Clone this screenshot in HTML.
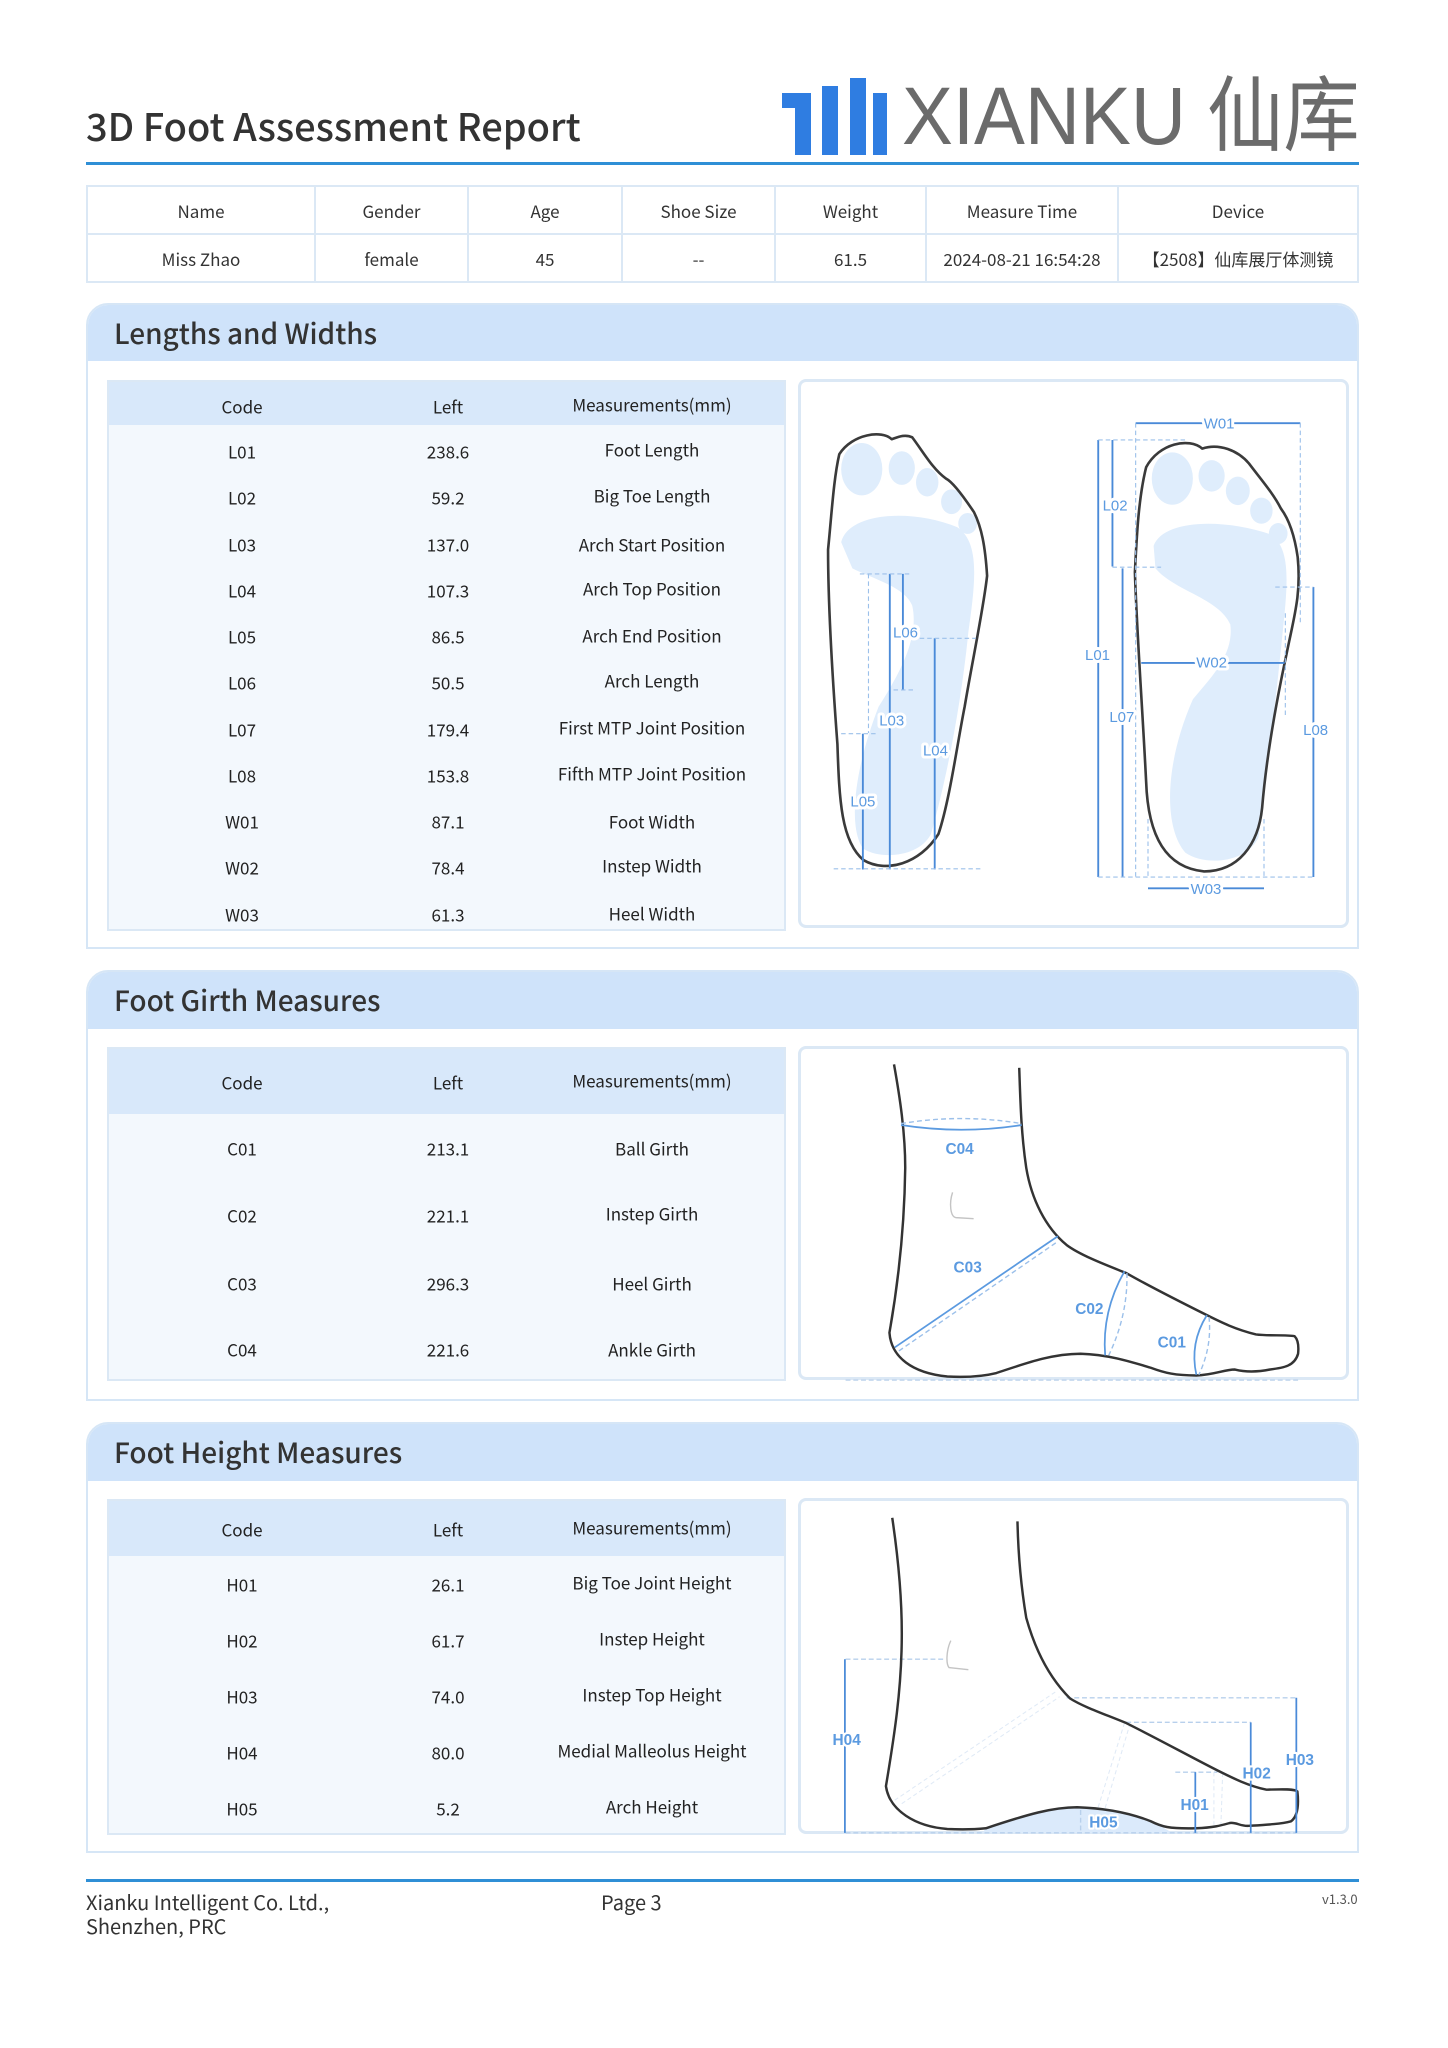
<!DOCTYPE html>
<html><head><meta charset="utf-8">
<style>
*{margin:0;padding:0;box-sizing:border-box}
body{width:1448px;height:2048px;background:#fff;position:relative;overflow:hidden;font-family:"Noto Sans CJK SC","Liberation Sans",sans-serif;color:#333}
.a{position:absolute}
.title{left:86px;top:102px;font-size:38px;color:#333;line-height:1.2;font-weight:500}
.rule{left:86px;top:162px;width:1273px;height:3px;background:#2f8fd6}
table{border-collapse:collapse}
.info{left:86px;top:185px;width:1273px;height:96px}
.info td{border:2px solid #dbe8f5;text-align:center;font-size:17px;color:#333;height:48px}
.sec{border:2px solid #d6e6f6;border-radius:22px 22px 0 0;background:#fff}
.hd{position:absolute;left:0;top:0;right:0;background:#cfe3fa;border-radius:20px 20px 0 0;font-size:28px;color:#333;padding-left:26px;font-weight:500}
.tb{position:absolute;left:19px;width:679px;background:#f3f8fd;border:2px solid #dbe8f5}
.tb .h{position:absolute;left:0;right:0;top:0;background:#d8e8fa}
.c{position:absolute;font-size:17px;color:#222;transform:translate(-50%,-50%);white-space:nowrap}
.box{position:absolute;border:3px solid #dbe8f5;border-radius:8px;background:#fff}
.lb{font-family:"Liberation Sans",sans-serif;fill:#5b9ae0;stroke:#fff;paint-order:stroke;stroke-linejoin:round}
</style></head><body>

<div class="a title">3D Foot Assessment Report</div>
<svg class="a" style="left:780px;top:76px" width="110" height="82">
<rect x="2" y="17" width="15" height="15" fill="#2f7de1"/>
<rect x="15" y="17" width="16" height="62" fill="#2f7de1"/>
<rect x="42" y="10" width="16" height="69" fill="#2f7de1"/>
<rect x="70" y="2" width="16" height="77" fill="#2f7de1"/>
<rect x="93" y="17" width="14" height="62" fill="#2f7de1"/>
</svg>
<div class="a" style="left:902px;top:72px;font-size:82px;line-height:1.1;color:#6b6b6b;font-family:'Liberation Sans','Noto Sans CJK SC',sans-serif;white-space:nowrap;transform:scaleX(0.93);transform-origin:0 0">XIANKU 仙库</div>
<div class="a rule"></div>

<table class="a info"><tr><td style="width:228px">Name</td><td style="width:153px">Gender</td><td style="width:154px">Age</td><td style="width:153px">Shoe Size</td><td style="width:151px">Weight</td><td style="width:192px">Measure Time</td><td>Device</td></tr>
<tr><td>Miss Zhao</td><td>female</td><td>45</td><td>--</td><td>61.5</td><td>2024-08-21 16:54:28</td><td>【2508】仙库展厅体测镜</td></tr></table>

<!-- Section 1 -->
<div class="a sec" style="left:86px;top:303px;width:1273px;height:646px">
<div class="hd" style="height:56px;line-height:56px">Lengths and Widths</div>
<div class="tb" style="top:75px;height:551px">
<div class="h" style="height:43px"></div>
<div class="c" style="left:133px;top:24px">Code</div><div class="c" style="left:339px;top:24px">Left</div><div class="c" style="left:543px;top:22px">Measurements(mm)</div>
<div class="c" style="left:133px;top:69px">L01</div><div class="c" style="left:339px;top:69px">238.6</div><div class="c" style="left:543px;top:67px">Foot Length</div>
<div class="c" style="left:133px;top:115px">L02</div><div class="c" style="left:339px;top:115px">59.2</div><div class="c" style="left:543px;top:113px">Big Toe Length</div>
<div class="c" style="left:133px;top:162px">L03</div><div class="c" style="left:339px;top:162px">137.0</div><div class="c" style="left:543px;top:162px">Arch Start Position</div>
<div class="c" style="left:133px;top:208px">L04</div><div class="c" style="left:339px;top:208px">107.3</div><div class="c" style="left:543px;top:206px">Arch Top Position</div>
<div class="c" style="left:133px;top:254px">L05</div><div class="c" style="left:339px;top:254px">86.5</div><div class="c" style="left:543px;top:253px">Arch End Position</div>
<div class="c" style="left:133px;top:300px">L06</div><div class="c" style="left:339px;top:300px">50.5</div><div class="c" style="left:543px;top:298px">Arch Length</div>
<div class="c" style="left:133px;top:347px">L07</div><div class="c" style="left:339px;top:347px">179.4</div><div class="c" style="left:543px;top:345px">First MTP Joint Position</div>
<div class="c" style="left:133px;top:393px">L08</div><div class="c" style="left:339px;top:393px">153.8</div><div class="c" style="left:543px;top:391px">Fifth MTP Joint Position</div>
<div class="c" style="left:133px;top:439px">W01</div><div class="c" style="left:339px;top:439px">87.1</div><div class="c" style="left:543px;top:439px">Foot Width</div>
<div class="c" style="left:133px;top:485px">W02</div><div class="c" style="left:339px;top:485px">78.4</div><div class="c" style="left:543px;top:483px">Instep Width</div>
<div class="c" style="left:133px;top:532px">W03</div><div class="c" style="left:339px;top:532px">61.3</div><div class="c" style="left:543px;top:531px">Heel Width</div>
</div>
</div>
<div class="box" style="left:798px;top:379px;width:551px;height:549px"></div>
<svg class="a" style="left:800px;top:370px" width="580" height="580" viewBox="0 0 1550 1550">
<g fill="#dfedfc">
<path d="M110,460 C130,380 300,370 420,420 C480,460 470,560 450,700 C430,900 390,1100 350,1240 C320,1300 220,1310 170,1280 C130,1230 140,1080 210,900 C260,820 320,720 300,630 C280,580 200,560 140,530 Z"/>
<ellipse cx="165" cy="265" rx="55" ry="70"/><ellipse cx="272" cy="262" rx="35" ry="45"/><ellipse cx="340" cy="300" rx="30" ry="38"/><ellipse cx="405" cy="352" rx="28" ry="33"/><ellipse cx="448" cy="410" rx="25" ry="28"/>
<path d="M945,470 C970,400 1130,395 1260,440 C1310,480 1305,560 1290,700 C1270,900 1245,1100 1225,1250 C1190,1320 1080,1325 1030,1290 C970,1220 975,1050 1050,880 C1100,820 1160,760 1150,680 C1120,610 1000,590 950,530 Z"/>
<ellipse cx="995" cy="290" rx="55" ry="70"/><ellipse cx="1100" cy="283" rx="35" ry="42"/><ellipse cx="1170" cy="323" rx="32" ry="38"/><ellipse cx="1233" cy="376" rx="30" ry="35"/><ellipse cx="1278" cy="437" rx="25" ry="28"/>
</g>
<g fill="none" stroke="#3a3a3a" stroke-width="7" stroke-linejoin="round">
<path d="M245,185 C220,160 140,170 105,225 C90,290 85,380 75,480 C75,600 85,800 100,1000 C105,1150 110,1260 170,1310 C230,1345 320,1320 370,1240 C400,1150 420,1000 440,900 C460,780 490,640 500,550 C495,470 485,420 465,380 C445,350 410,300 390,290 C355,265 330,220 300,180 C280,170 260,180 245,185 Z"/>
<path d="M1075,210 C1040,180 960,195 925,260 C905,340 900,440 895,540 C900,700 915,900 925,1100 C930,1250 980,1330 1080,1340 C1170,1340 1225,1270 1235,1170 C1245,1050 1270,900 1300,760 C1320,660 1340,600 1330,500 C1320,430 1300,390 1285,370 C1265,330 1230,290 1200,250 C1170,215 1120,195 1075,210 Z"/>
</g>
<g stroke="#4a8ad8" stroke-width="5" fill="none">
<path d="M275,545V855M240,545V1335M168,972V1335M360,717V1335"/>
<path d="M897,142H1337M797,187V1355M835,187V525M862,530V1355M912,783H1295M1372,580V1355M930,1385H1240"/>
</g>
<g stroke="#9cc0ea" stroke-width="3" stroke-dasharray="12,8" fill="none">
<path d="M160,545H300M183,545V970M110,972H210M320,717H470M250,855H305M90,1333H490"/>
<path d="M897,142V1355M1337,142V680M797,187H1030M835,527H965M1297,650V925M1270,580H1372M930,1200V1360M1240,1200V1360M797,1355H1372"/>
</g>
<g class="lb" font-size="40" text-anchor="middle" stroke-width="16">
<text x="282" y="715">L06</text><text x="245" y="950">L03</text><text x="362" y="1030">L04</text><text x="168" y="1166">L05</text>
<text x="1120" y="157">W01</text>
<text x="842" y="375">L02</text><text x="795" y="775">L01</text><text x="860" y="941">L07</text>
<text x="1100" y="795">W02</text>
<text x="1378" y="976">L08</text><text x="1085" y="1401">W03</text>
</g>
</svg>

<!-- Section 2 -->
<div class="a sec" style="left:86px;top:970px;width:1273px;height:431px">
<div class="hd" style="height:57px;line-height:57px">Foot Girth Measures</div>
<div class="tb" style="top:75px;height:334px">
<div class="h" style="height:65px"></div>
<div class="c" style="left:133px;top:33px">Code</div><div class="c" style="left:339px;top:33px">Left</div><div class="c" style="left:543px;top:31px">Measurements(mm)</div>
<div class="c" style="left:133px;top:99px">C01</div><div class="c" style="left:339px;top:99px">213.1</div><div class="c" style="left:543px;top:99px">Ball Girth</div>
<div class="c" style="left:133px;top:166px">C02</div><div class="c" style="left:339px;top:166px">221.1</div><div class="c" style="left:543px;top:164px">Instep Girth</div>
<div class="c" style="left:133px;top:234px">C03</div><div class="c" style="left:339px;top:234px">296.3</div><div class="c" style="left:543px;top:234px">Heel Girth</div>
<div class="c" style="left:133px;top:300px">C04</div><div class="c" style="left:339px;top:300px">221.6</div><div class="c" style="left:543px;top:300px">Ankle Girth</div>
</div>
</div>
<div class="box" style="left:798px;top:1046px;width:551px;height:334px"></div>
<svg class="a" style="left:800px;top:1045px" width="550" height="340" viewBox="0 0 1568 969">
<path d="M130,955H1420" stroke="#bcd2ec" stroke-width="4" stroke-dasharray="14,8"/>
<path d="M268,55 C285,150 300,250 300,350 C298,500 285,650 255,820 C260,890 320,935 420,945 C480,948 520,945 560,935 C650,905 720,880 800,880 C880,882 950,905 1000,920 C1040,935 1070,942 1130,942 C1180,940 1210,925 1240,925 C1260,930 1290,935 1340,925 C1380,920 1410,915 1420,880 C1422,860 1420,840 1410,830 C1380,825 1340,830 1300,825 C1240,810 1200,790 1160,770 C1080,730 1000,690 930,650 C880,630 800,600 760,570 C700,520 660,440 645,350 C630,250 628,150 625,65" fill="none" stroke="#333" stroke-width="7" stroke-linejoin="round"/>
<path d="M435,420 C425,450 428,490 445,492 L495,495" fill="none" stroke="#c4c4c4" stroke-width="4"/>
<g fill="none" stroke="#5b9ae0" stroke-width="5">
<path d="M288,228 Q460,255 632,228"/><path d="M270,862 L735,545"/><path d="M925,645 Q860,760 870,885"/><path d="M1160,770 Q1110,850 1130,940"/>
</g>
<g fill="none" stroke="#9cc0ea" stroke-width="4" stroke-dasharray="14,9">
<path d="M288,224 Q460,195 632,224"/><path d="M282,872 L735,560"/><path d="M932,650 Q935,770 880,885"/><path d="M1166,775 Q1175,860 1137,940"/>
</g>
<g class="lb" font-size="44" text-anchor="middle" font-weight="bold" stroke-width="10">
<text x="455" y="310">C04</text><text x="478" y="648">C03</text><text x="825" y="767">C02</text><text x="1060" y="862">C01</text>
</g>
</svg>

<!-- Section 3 -->
<div class="a sec" style="left:86px;top:1422px;width:1273px;height:431px">
<div class="hd" style="height:57px;line-height:57px">Foot Height Measures</div>
<div class="tb" style="top:75px;height:336px">
<div class="h" style="height:55px"></div>
<div class="c" style="left:133px;top:28px">Code</div><div class="c" style="left:339px;top:28px">Left</div><div class="c" style="left:543px;top:26px">Measurements(mm)</div>
<div class="c" style="left:133px;top:83px">H01</div><div class="c" style="left:339px;top:83px">26.1</div><div class="c" style="left:543px;top:81px">Big Toe Joint Height</div>
<div class="c" style="left:133px;top:139px">H02</div><div class="c" style="left:339px;top:139px">61.7</div><div class="c" style="left:543px;top:137px">Instep Height</div>
<div class="c" style="left:133px;top:195px">H03</div><div class="c" style="left:339px;top:195px">74.0</div><div class="c" style="left:543px;top:193px">Instep Top Height</div>
<div class="c" style="left:133px;top:251px">H04</div><div class="c" style="left:339px;top:251px">80.0</div><div class="c" style="left:543px;top:249px">Medial Malleolus Height</div>
<div class="c" style="left:133px;top:307px">H05</div><div class="c" style="left:339px;top:307px">5.2</div><div class="c" style="left:543px;top:305px">Arch Height</div>
</div>
</div>
<div class="box" style="left:798px;top:1498px;width:551px;height:336px"></div>
<svg class="a" style="left:800px;top:1495px" width="550" height="340" viewBox="0 0 1568 969">
<path d="M530,950 C650,910 720,890 790,890 C880,893 950,910 1000,930 C1030,945 1050,955 1060,963 L520,963 Z" fill="#dbeafb"/>
<g fill="none" stroke="#b8d0ec" stroke-width="4" stroke-dasharray="14,8">
<path d="M130,963H1415M130,468H410M760,578H1415M930,648H1285M1070,790H1190M800,898V958"/>
</g>
<g fill="none" stroke="#e0eaf6" stroke-width="3" stroke-dasharray="12,8">
<path d="M270,870 L730,560M290,880 L740,575M850,890 L925,650M870,892 L940,655M1180,790 L1180,940M1205,792 L1200,940"/>
</g>
<path d="M263,65 C280,180 292,300 290,420 C288,560 270,680 245,830 C255,900 330,945 420,952 C480,955 510,952 530,950 C650,910 720,890 790,890 C880,893 950,910 1000,930 C1030,945 1050,952 1130,950 C1180,948 1200,942 1225,935 C1245,932 1255,945 1280,943 C1330,940 1370,938 1400,930 C1420,915 1422,880 1418,845 C1410,838 1380,838 1330,840 C1280,830 1230,805 1200,790 C1120,750 1040,705 930,650 C870,625 810,605 770,580 C710,520 670,440 645,350 C630,260 622,170 620,75" fill="none" stroke="#333" stroke-width="7" stroke-linejoin="round"/>
<path d="M430,415 C418,440 415,480 425,492 L480,498" fill="none" stroke="#c4c4c4" stroke-width="4"/>
<g stroke="#4a8ad8" stroke-width="5"><path d="M128,468V963M1415,578V963M1285,648V963M1127,790V963"/></g>
<g class="lb" font-size="44" text-anchor="middle" font-weight="bold" stroke-width="12">
<text x="133" y="712">H04</text><text x="1425" y="770">H03</text><text x="1302" y="808">H02</text><text x="1125" y="898">H01</text><text x="865" y="948">H05</text>
</g>
</svg>

<!-- Footer -->
<div class="a" style="left:86px;top:1879px;width:1273px;height:3px;background:#2f8fd6"></div>
<div class="a" style="left:86px;top:1890px;font-size:20px;line-height:24px;color:#333">Xianku Intelligent Co. Ltd.,<br>Shenzhen, PRC</div>
<div class="a" style="left:601px;top:1890px;font-size:20px;line-height:24px;color:#333">Page 3</div>
<div class="a" style="left:1322px;top:1889px;font-size:13px;color:#555">v1.3.0</div>
</body></html>
